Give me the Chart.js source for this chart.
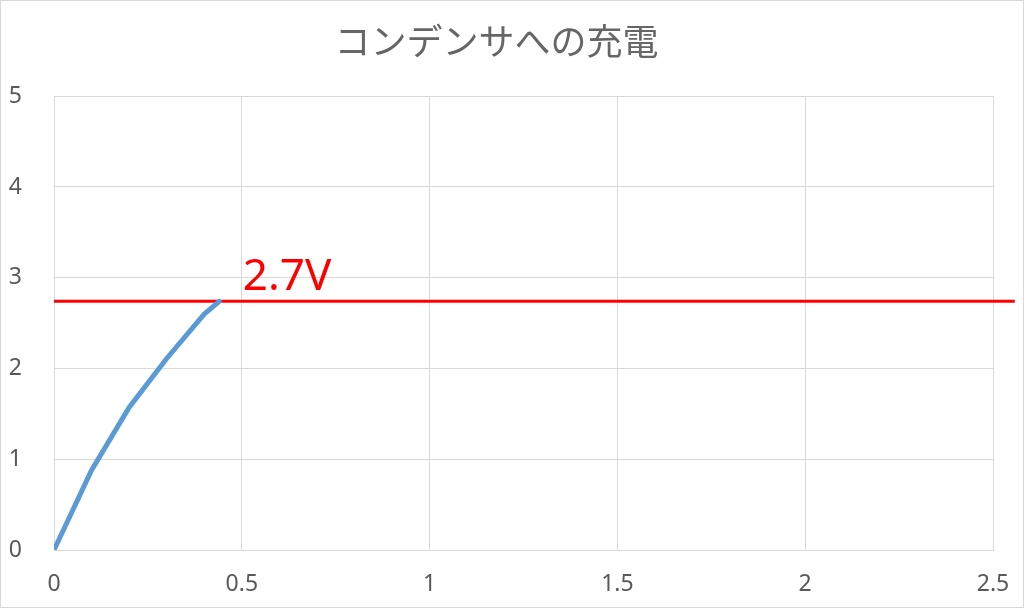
<!DOCTYPE html>
<html>
<head>
<meta charset="utf-8">
<script src="https://cdn.jsdelivr.net/npm/chart.js@4"></script>
<style>
  html, body { margin: 0; padding: 0; background: #fff; }
  #wrap { width: 1024px; height: 608px; }
</style>
</head>
<body>
<div id="wrap"><canvas id="chargeChart" width="1024" height="608"></canvas></div>
<script>
// charging curve (time, voltage)
var timeValues    = [0, 0.1, 0.2, 0.3, 0.4, 0.44]
var voltageValues = [0, 0.88, 1.57, 2.11, 2.6, 2.74]

// 2.7V reference line
var levelValue = 2.74
var levelLabel = '2.7V'
var levelStart = 0
var levelEnd   = 2.558

var xTicks = [0, 0.5, 1, 1.5, 2, 2.5]
var yTicks = [0, 1, 2, 3, 4, 5]
var chartTitle = 'コンデンサへの充電'

var curvePoints = timeValues.map(function (t, i) { return { x: t, y: voltageValues[i] } })
var levelPoints = [{ x: levelStart, y: levelValue }, { x: levelEnd, y: levelValue }]

var tickFont = { family: 'Noto Sans, sans-serif', size: 23 }

var frame = {
  id: 'frame',
  beforeDraw: function (chart) {
    var ctx = chart.ctx
    ctx.save()
    ctx.fillStyle = '#fff'
    ctx.fillRect(0, 0, chart.width, chart.height)
    ctx.strokeStyle = '#d9d9d9'
    ctx.lineWidth = 1
    ctx.strokeRect(0.5, 0.5, chart.width - 1, chart.height - 1)
    ctx.restore()
  }
}

var levelText = {
  id: 'levelText',
  afterDatasetsDraw: function (chart) {
    var ctx = chart.ctx
    var x = chart.scales.x.getPixelForValue(0.5)
    var y = chart.scales.y.getPixelForValue(levelValue)
    ctx.save()
    ctx.fillStyle = '#ff0000'
    ctx.font = '44px Noto Sans, sans-serif'
    ctx.textBaseline = 'alphabetic'
    ctx.fillText(levelLabel, x + 1, y - 11)
    ctx.restore()
  }
}

new Chart(document.getElementById('chargeChart').getContext('2d'), {
  type: 'line',
  data: {
    datasets: [
      {
        data: curvePoints,
        borderColor: '#5b9bd5',
        borderWidth: 5,
        pointRadius: 0,
        tension: 0,
        borderCapStyle: 'round'
      },
      {
        data: levelPoints,
        borderColor: '#ff0000',
        borderWidth: 3,
        pointRadius: 0,
        clip: false
      }
    ]
  },
  options: {
    responsive: false,
    animation: false,
    layout: { padding: { left: 0, right: 31, top: 0, bottom: 0 } },
    plugins: {
      legend: { display: false },
      tooltip: { enabled: false },
      title: {
        display: true,
        text: chartTitle,
        color: '#666666',
        font: { family: 'Noto Sans CJK JP, sans-serif', size: 36, weight: 'normal' },
        padding: { top: 20, bottom: 33 }
      }
    },
    scales: {
      x: {
        type: 'linear',
        min: 0,
        max: 2.5,
        afterBuildTicks: function (s) { s.ticks = xTicks.map(function (v) { return { value: v } }) },
        afterFit: function (s) { s.height = 58; s.paddingLeft = 0; s.paddingRight = 0 },
        ticks: {
          color: '#595959', font: tickFont, padding: 21, maxRotation: 0,
          callback: function (v) { return String(v) }
        },
        grid: { color: '#d9d9d9', drawTicks: false },
        border: { color: '#d9d9d9' }
      },
      y: {
        min: 0,
        max: 5,
        afterBuildTicks: function (s) { s.ticks = yTicks.map(function (v) { return { value: v } }) },
        afterFit: function (s) { s.width = 54; s.paddingTop = 0; s.paddingBottom = 0 },
        ticks: { color: '#595959', font: tickFont, padding: 32 },
        grid: { color: '#d9d9d9', drawTicks: false },
        border: { color: '#d9d9d9' }
      }
    }
  },
  plugins: [frame, levelText]
})
</script>
</body>
</html>
